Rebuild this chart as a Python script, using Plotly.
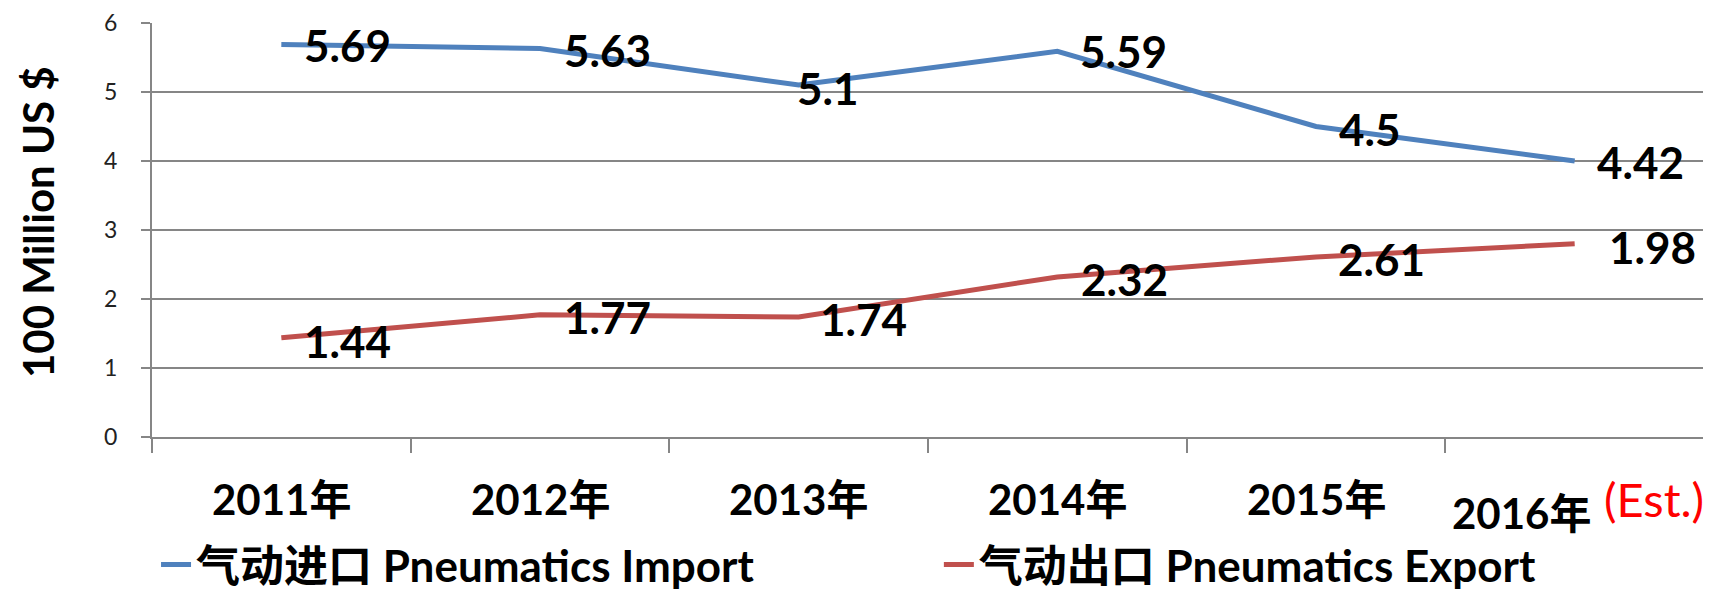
import plotly.graph_objects as go

# ---- data ----
categories = ["2011年", "2012年", "2013年", "2014年", "2015年", "2016年"]
import_values = [5.69, 5.63, 5.10, 5.59, 4.50, 4.00]
export_values = [1.44, 1.77, 1.74, 2.32, 2.61, 2.80]
import_labels = ["5.69", "5.63", "5.1", "5.59", "4.5", "4.42"]
export_labels = ["1.44", "1.77", "1.74", "2.32", "2.61", "1.98"]
import_name = "气动进口 Pneumatics Import"
export_name = "气动出口 Pneumatics Export"
y_title = "100 Million US $"
est_note = "(Est.)"
y_ticks = [0, 1, 2, 3, 4, 5, 6]

# ---- styles / label placement ----
FONT = "Lato, 'Noto Sans CJK SC', sans-serif"
BLUE = "#4F81BD"
RED = "#C0504D"
GREY = "#868686"
import_dx = [66, 67, 29, 66, 54, 66]
import_dy = [-1, -1, -3, 0, -2, -1]
export_dx = [66, 67, 65, 67, 65, 78]
export_dy = [-3, -2, -2, -2, -2, -3]
cat_dx = [0, 0, 0, 0, 0, -53]
cat_dy = [-62, -62, -62, -62, -62, -76]

fig = go.Figure()
fig.add_trace(go.Scatter(x=categories, y=import_values, mode="lines", name=import_name,
                         line=dict(color=BLUE, width=5), legend="legend"))
fig.add_trace(go.Scatter(x=categories, y=export_values, mode="lines", name=export_name,
                         line=dict(color=RED, width=5), legend="legend2"))

annotations = []
for c, v, t, dx, dy in zip(categories, import_values, import_labels, import_dx, import_dy):
    annotations.append(dict(x=c, y=v, text=t, showarrow=False, xanchor="center", yanchor="middle",
                            xshift=dx, yshift=dy,
                            font=dict(family=FONT, size=44, color="black", weight="bold")))
for c, v, t, dx, dy in zip(categories, export_values, export_labels, export_dx, export_dy):
    annotations.append(dict(x=c, y=v, text=t, showarrow=False, xanchor="center", yanchor="middle",
                            xshift=dx, yshift=dy,
                            font=dict(family=FONT, size=44, color="black", weight="bold")))
for c, dx, dy in zip(categories, cat_dx, cat_dy):
    annotations.append(dict(x=c, y=0, yref="paper", text=c, showarrow=False,
                            xanchor="center", yanchor="middle", xshift=dx, yshift=dy,
                            font=dict(family=FONT, size=42, color="black", weight="bold")))
annotations.append(dict(x=categories[-1], y=0, yref="paper", text=est_note, showarrow=False,
                        xanchor="center", yanchor="middle", xshift=79, yshift=-62,
                        font=dict(family=FONT, size=47, color="#FF0000")))
annotations.append(dict(x=0, xref="paper", y=0.5, yref="paper", text=y_title, showarrow=False,
                        textangle=-90, xanchor="center", yanchor="middle", xshift=-114, yshift=8,
                        font=dict(family=FONT, size=42, color="black", weight="bold")))

legend_style = dict(orientation="h", xanchor="left", y=-0.309, yanchor="middle",
                    font=dict(family=FONT, size=44, color="black", weight="bold"),
                    bgcolor="rgba(0,0,0,0)")

# page body has an 8px default margin, so the figure is offset by 8px
fig.update_layout(
    width=1711, height=593,
    margin=dict(l=144, r=15, t=15, b=164, autoexpand=False),
    paper_bgcolor="white", plot_bgcolor="white",
    showlegend=True,
    legend=dict(x=0.0026, **legend_style),
    legend2=dict(x=0.507, **legend_style),
    annotations=annotations,
)
fig.update_xaxes(type="category", range=[-0.5, 5.5], showticklabels=False,
                 showline=True, linecolor=GREY, linewidth=2, showgrid=False,
                 ticks="outside", tickson="boundaries", ticklen=14, tickcolor=GREY, tickwidth=2,
                 zeroline=False)
fig.update_yaxes(range=[0, 6], tickvals=y_ticks, showline=True, linecolor=GREY, linewidth=2,
                 showgrid=True, gridcolor=GREY, gridwidth=1.5,
                 ticks="outside", ticklen=9, tickcolor=GREY, tickwidth=2, ticklabelstandoff=19,
                 tickfont=dict(family=FONT, size=23, color="#222222"), zeroline=False)

fig.write_html("out.html")
